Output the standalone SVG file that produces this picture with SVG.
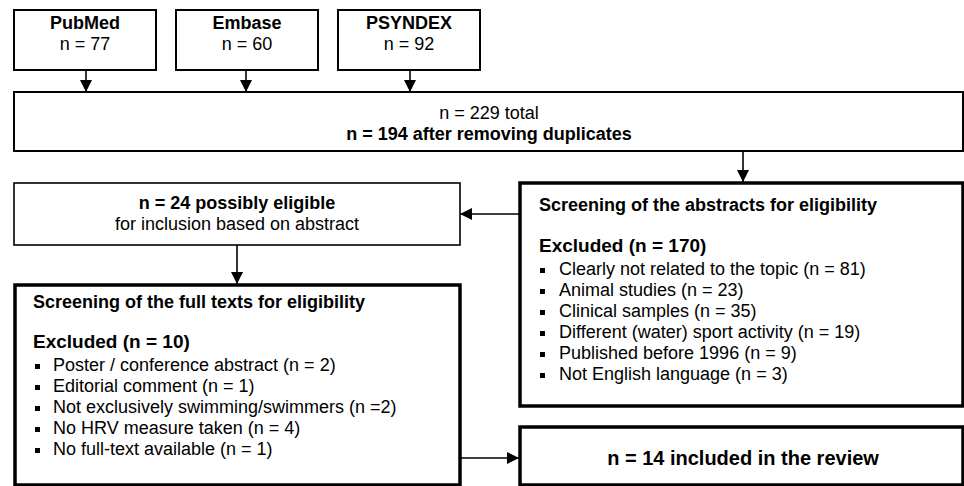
<svg xmlns="http://www.w3.org/2000/svg" width="964" height="486" viewBox="0 0 964 486">
<defs>
<style>
text{font-family:"Liberation Sans",Arial,Helvetica,sans-serif;font-size:18px;fill:#000}
.b{font-weight:bold}
.c{text-anchor:middle}
.ex{font-size:19px}
.thin{fill:#fff;stroke:#000;stroke-width:2}
.thick{fill:#fff;stroke:#000;stroke-width:3.5}
.conn{stroke:#000;stroke-width:1.6;fill:none}
.bul{fill:#000}
</style>
<marker id="ah" viewBox="0 0 10 10" refX="10" refY="5" markerWidth="12" markerHeight="12" markerUnits="userSpaceOnUse" orient="auto">
<path d="M0,0 L10,5 L0,10 z" fill="#000"/>
</marker>
</defs>
<rect width="964" height="486" fill="#fff"/>
<g id="connectors">
<line class="conn" x1="86" y1="70" x2="86" y2="92" marker-end="url(#ah)"/>
<line class="conn" x1="246" y1="70" x2="246" y2="92" marker-end="url(#ah)"/>
<line class="conn" x1="410" y1="70" x2="410" y2="92" marker-end="url(#ah)"/>
<line class="conn" x1="743" y1="151" x2="743" y2="182" marker-end="url(#ah)"/>
<line class="conn" x1="519" y1="214" x2="460" y2="214" marker-end="url(#ah)"/>
<line class="conn" x1="237" y1="245" x2="237" y2="284" marker-end="url(#ah)"/>
<line class="conn" x1="460" y1="458" x2="519" y2="458" marker-end="url(#ah)"/>
</g>
<g id="pubmed">
<rect class="thin" x="14" y="10" width="142" height="60"/>
<text class="b c" x="85" y="29">PubMed</text>
<text class="c" x="85" y="50">n = 77</text>
</g>
<g id="embase">
<rect class="thin" x="176" y="10" width="142" height="60"/>
<text class="b c" x="247" y="29">Embase</text>
<text class="c" x="247" y="50">n = 60</text>
</g>
<g id="psyndex">
<rect class="thin" x="338" y="10" width="142" height="60"/>
<text class="b c" x="409" y="29">PSYNDEX</text>
<text class="c" x="409" y="50">n = 92</text>
</g>
<g id="total">
<rect class="thin" x="14" y="92" width="949" height="59"/>
<text class="c" x="489" y="119">n = 229 total</text>
<text class="b c" x="489" y="140">n = 194 after removing duplicates</text>
</g>
<g id="eligible">
<rect class="thin" x="14" y="183" width="446" height="62" style="stroke-width:1.6"/>
<text class="b c" x="237" y="209">n = 24 possibly eligible</text>
<text class="c" x="237" y="230">for inclusion based on abstract</text>
</g>
<g id="abstracts">
<rect class="thick" x="520" y="183" width="443" height="223"/>
<text class="b" x="539" y="211">Screening of the abstracts for eligibility</text>
<text class="b ex" x="539" y="252">Excluded (n = 170)</text>
<rect class="bul" x="540" y="268" width="5" height="5"/>
<text x="559" y="275">Clearly not related to the topic (n = 81)</text>
<rect class="bul" x="540" y="289" width="5" height="5"/>
<text x="559" y="296">Animal studies (n = 23)</text>
<rect class="bul" x="540" y="310" width="5" height="5"/>
<text x="559" y="317">Clinical samples (n = 35)</text>
<rect class="bul" x="540" y="331" width="5" height="5"/>
<text x="559" y="338">Different (water) sport activity (n = 19)</text>
<rect class="bul" x="540" y="352" width="5" height="5"/>
<text x="559" y="359">Published before 1996 (n = 9)</text>
<rect class="bul" x="540" y="373" width="5" height="5"/>
<text x="559" y="380">Not English language (n = 3)</text>
</g>
<g id="fulltext">
<rect class="thick" x="15" y="285" width="445" height="200"/>
<text class="b" x="33" y="308">Screening of the full texts for eligibility</text>
<text class="b ex" x="33" y="348">Excluded (n = 10)</text>
<rect class="bul" x="35" y="364" width="5" height="5"/>
<text x="53" y="371">Poster / conference abstract (n = 2)</text>
<rect class="bul" x="35" y="385" width="5" height="5"/>
<text x="53" y="392">Editorial comment (n = 1)</text>
<rect class="bul" x="35" y="406" width="5" height="5"/>
<text x="53" y="413">Not exclusively swimming/swimmers (n =2)</text>
<rect class="bul" x="35" y="427" width="5" height="5"/>
<text x="53" y="434">No HRV measure taken (n = 4)</text>
<rect class="bul" x="35" y="448" width="5" height="5"/>
<text x="53" y="455">No full-text available (n = 1)</text>
</g>
<g id="included">
<rect class="thick" x="520" y="427" width="443" height="58"/>
<text class="b c" x="743" y="465" style="font-size:20px">n = 14 included in the review</text>
</g>
</svg>
